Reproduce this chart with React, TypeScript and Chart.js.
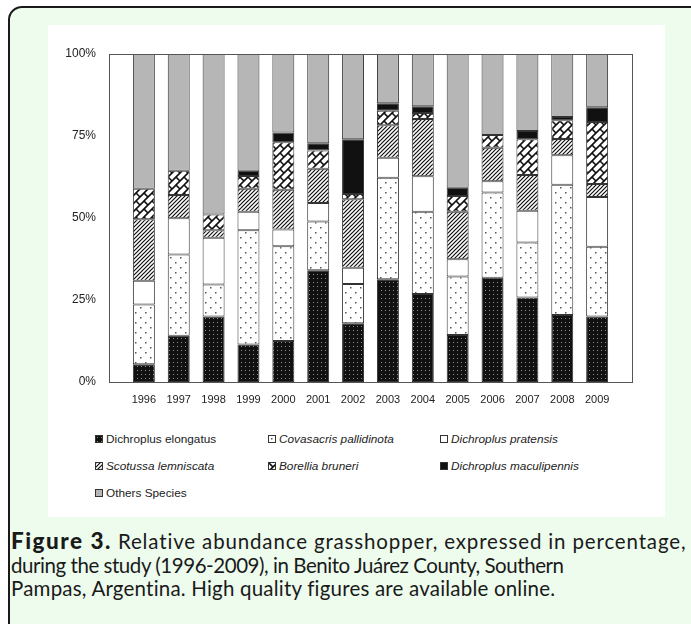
import React, { useEffect, useRef, useMemo } from 'react';
import { Chart, registerables } from 'chart.js';

Chart.register(...registerables);

const years = ['1996', '1997', '1998', '1999', '2000', '2001', '2002', '2003', '2004', '2005', '2006', '2007', '2008', '2009'];
const dichroplusElongatus = [5.4, 14.1, 20.0, 11.4, 12.5, 34.1, 17.9, 31.3, 26.8, 14.3, 31.8, 25.8, 20.4, 20.0];
const covasacrisPallidinota = [18.2, 24.8, 9.7, 34.9, 28.9, 14.8, 12.0, 31.0, 25.1, 17.9, 26.0, 16.7, 39.7, 21.2];
const dichroplusPratensis = [7.3, 11.0, 14.3, 5.6, 5.1, 5.7, 4.9, 6.1, 10.8, 5.2, 3.4, 9.7, 9.0, 15.2];
const scotussaLemniscata = [18.7, 7.1, 2.3, 7.0, 12.1, 10.4, 20.9, 9.9, 17.5, 14.5, 10.2, 10.9, 5.0, 4.0];
const borelliaBruneri = [9.3, 7.4, 4.8, 3.9, 14.5, 5.6, 1.6, 4.4, 1.8, 4.8, 3.9, 10.9, 5.7, 18.9];
const dichroplusMaculipennis = [0, 0, 0, 1.6, 3.0, 2.2, 16.7, 2.3, 2.1, 2.5, 0, 2.5, 1.0, 4.5];
const othersSpecies = [41.1, 35.6, 48.9, 35.6, 23.9, 27.2, 26.0, 15.0, 15.9, 40.8, 24.7, 23.5, 19.2, 16.2];
const yTicks = [0, 25, 50, 75, 100];

type Kind = 'blackDots' | 'whiteDots' | 'white' | 'hatch' | 'brick' | 'black' | 'gray';

const seriesDefs: { label: string; italic: boolean; kind: Kind; data: number[] }[] = [
  { label: 'Dichroplus elongatus', italic: false, kind: 'blackDots', data: dichroplusElongatus },
  { label: 'Covasacris pallidinota', italic: true, kind: 'whiteDots', data: covasacrisPallidinota },
  { label: 'Dichroplus pratensis', italic: true, kind: 'white', data: dichroplusPratensis },
  { label: 'Scotussa lemniscata', italic: true, kind: 'hatch', data: scotussaLemniscata },
  { label: 'Borellia bruneri', italic: true, kind: 'brick', data: borelliaBruneri },
  { label: 'Dichroplus maculipennis', italic: true, kind: 'black', data: dichroplusMaculipennis },
  { label: 'Others Species', italic: false, kind: 'gray', data: othersSpecies },
];

function makeTile(kind: Kind): HTMLCanvasElement {
  const c = document.createElement('canvas');
  const ctx = c.getContext('2d')!;
  if (kind === 'blackDots') {
    c.width = 4; c.height = 4;
    ctx.fillStyle = '#111'; ctx.fillRect(0, 0, 4, 4);
    ctx.fillStyle = '#8a8a8a'; ctx.fillRect(1, 1, 1, 1);
  } else if (kind === 'whiteDots') {
    c.width = 10; c.height = 10;
    ctx.fillStyle = '#fff'; ctx.fillRect(0, 0, 10, 10);
    ctx.fillStyle = '#555';
    ctx.fillRect(2, 2, 1.5, 1.5);
    ctx.fillRect(7, 7, 1.5, 1.5);
  } else if (kind === 'white') {
    c.width = 4; c.height = 4;
    ctx.fillStyle = '#fff'; ctx.fillRect(0, 0, 4, 4);
  } else if (kind === 'hatch') {
    const s = 4;
    c.width = s; c.height = s;
    ctx.fillStyle = '#fff'; ctx.fillRect(0, 0, s, s);
    ctx.strokeStyle = '#111'; ctx.lineWidth = 1.2;
    for (let k = -1; k <= 1; k++) {
      ctx.beginPath();
      ctx.moveTo(k * s - 1, s + 1);
      ctx.lineTo(k * s + s + 1, -1);
      ctx.stroke();
    }
  } else if (kind === 'brick') {
    const s = 16;
    c.width = s; c.height = s;
    ctx.fillStyle = '#fff'; ctx.fillRect(0, 0, s, s);
    ctx.strokeStyle = '#111'; ctx.lineWidth = 1.6;
    for (let j = -4; j <= 8; j++) {
      const sum = j * 8;
      ctx.beginPath();
      ctx.moveTo(sum + 20, -20);
      ctx.lineTo(sum - 20, 20);
      ctx.stroke();
    }
    for (let j = -4; j <= 8; j++) {
      for (let m = -4; m <= 4; m++) {
        const d = 8 * j + 16 * m;
        const s0 = 8 * j, s1 = 8 * j + 8;
        ctx.beginPath();
        ctx.moveTo((s0 + d) / 2, (s0 - d) / 2);
        ctx.lineTo((s1 + d) / 2, (s1 - d) / 2);
        ctx.stroke();
      }
    }
  } else if (kind === 'black') {
    c.width = 4; c.height = 4;
    ctx.fillStyle = '#111'; ctx.fillRect(0, 0, 4, 4);
  } else {
    c.width = 4; c.height = 4;
    ctx.fillStyle = '#b6b6b6'; ctx.fillRect(0, 0, 4, 4);
  }
  return c;
}

const FONT = "'Liberation Sans', Arial, sans-serif";

export default function App() {
  const canvasRef = useRef<HTMLCanvasElement | null>(null);
  const tiles = useMemo(() => seriesDefs.map((s) => makeTile(s.kind)), []);
  const tileUrls = useMemo(() => tiles.map((t) => t.toDataURL()), [tiles]);

  useEffect(() => {
    const canvas = canvasRef.current!;
    const ctx = canvas.getContext('2d')!;
    const framePlugin = {
      id: 'frame',
      afterDatasetsDraw(chart: any) {
        const { left, top, right, bottom } = chart.chartArea;
        const c = chart.ctx;
        c.save();
        c.strokeStyle = '#555';
        c.lineWidth = 1;
        c.strokeRect(Math.round(left) + 0.5, Math.round(top) + 0.5, Math.round(right - left), Math.round(bottom - top));
        c.restore();
      },
    };
    const chart = new Chart(ctx, {
      type: 'bar',
      data: {
        labels: ['', ...years, ''],
        datasets: seriesDefs.map((s, i) => ({
          label: s.label,
          data: [null, ...s.data.map((v) => (v > 0 ? v : null)), null],
          backgroundColor: ctx.createPattern(tiles[i], 'repeat') as any,
          borderColor: '#333',
          borderWidth: 1,
          borderSkipped: false,
          barPercentage: 0.63,
          categoryPercentage: 1,
        })),
      },
      options: {
        animation: false,
        responsive: false,
        maintainAspectRatio: false,
        devicePixelRatio: 1,
        layout: { padding: { top: 29, right: 33, bottom: 8, left: 0 } },
        plugins: { legend: { display: false }, tooltip: { enabled: false } },
        scales: {
          x: {
            stacked: true,
            offset: false,
            grid: { display: false, drawTicks: false },
            border: { display: false },
            ticks: { font: { family: FONT, size: 11 }, color: '#222', padding: 11, autoSkip: false, maxRotation: 0 },
            afterFit: (s: any) => { s.height = 27; },
          },
          y: {
            stacked: true,
            min: 0,
            max: 100,
            afterBuildTicks: (s: any) => { s.ticks = yTicks.map((v) => ({ value: v })); },
            ticks: { font: { family: FONT, size: 12 }, color: '#222', padding: 13, callback: (v: any) => v + '%' },
            grid: { display: false, drawTicks: false },
            border: { display: false },
            afterFit: (s: any) => { s.width = 61; },
          },
        },
      },
      plugins: [framePlugin],
    });
    return () => chart.destroy();
  }, [tiles]);

  const legendCols = [47, 220, 392];
  const legendRows = [414, 441, 468];

  const capFont = "Lato, 'Open Sans', sans-serif";

  return (
    <div style={{ position: 'fixed', left: 0, top: 0, width: 691, height: 624, overflow: 'hidden', background: '#fff' }}>
      <div
        style={{
          position: 'absolute', left: 8, top: 6, width: 720, height: 640,
          border: '2px solid #1a1a1a', borderRadius: 14, background: '#eefcee', boxSizing: 'border-box',
        }}
      />
      <div style={{ position: 'absolute', left: 48, top: 25, width: 617, height: 492, background: '#fff' }}>
        <canvas ref={canvasRef} width={617} height={392} style={{ position: 'absolute', left: 0, top: 0, width: 617, height: 392 }} />
        {seriesDefs.map((s, i) => {
          const col = i % 3;
          const row = Math.floor(i / 3);
          const x = legendCols[col];
          const y = legendRows[row];
          return (
            <div key={s.label} style={{ position: 'absolute', left: x, top: y - 8, height: 16, display: 'flex', alignItems: 'center', whiteSpace: 'nowrap' }}>
              <span
                style={{
                  display: 'inline-block', width: 6, height: 6, border: '1px solid #333',
                  backgroundImage: `url(${tileUrls[i]})`, backgroundRepeat: 'repeat', marginRight: 3,
                }}
              />
              <span style={{ fontFamily: FONT, fontSize: 11.8, color: '#222', fontStyle: s.italic ? 'italic' : 'normal' }}>{s.label}</span>
            </div>
          );
        })}
      </div>
      <div
        style={{
          position: 'absolute', left: 11, top: 529, width: 700,
          fontFamily: capFont, fontSize: 20.5, lineHeight: '23.5px', color: '#1a1a1a', whiteSpace: 'nowrap',
        }}
      >
        <div>
          <span style={{ fontWeight: 900, fontSize: 22.5, letterSpacing: '1.5px', lineHeight: '23.5px' }}>Figure 3.</span>
          <span style={{ letterSpacing: '0.85px' }}> Relative abundance grasshopper, expressed in percentage,</span>
        </div>
        <div style={{ letterSpacing: '-0.45px' }}>during the study (1996-2009), in Benito Juárez County, Southern</div>
        <div style={{ letterSpacing: '0.2px' }}>Pampas, Argentina. High quality figures are available online.</div>
      </div>
    </div>
  );
}
